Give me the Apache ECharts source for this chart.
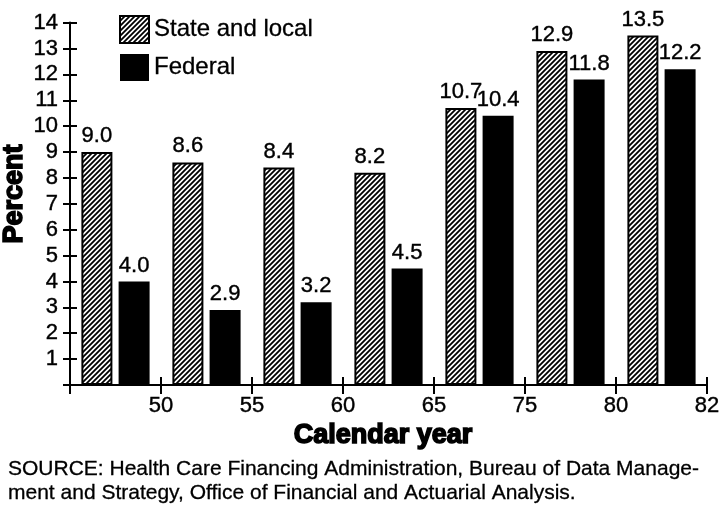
<!DOCTYPE html>
<html><head><meta charset="utf-8">
<script src="https://cdn.jsdelivr.net/npm/echarts@6/dist/echarts.min.js"></script>
<style>html,body{margin:0;padding:0;background:#fff}#c{width:721px;height:513px}</style>
</head><body><div id="c"></div>
<script>
const categories = ['1950', '1955', '1960', '1965', '1975', '1980', '1982'];
const stateLocal = [9.0, 8.6, 8.4, 8.2, 10.7, 12.9, 13.5];
const federal = [4.0, 2.9, 3.2, 4.5, 10.4, 11.8, 12.2];
const xTickLabels = ['', '50', '55', '60', '65', '75', '80', '82'];
const sourceLines = [
  'SOURCE: Health Care Financing Administration, Bureau of Data Manage-',
  'ment and Strategy, Office of Financial and Actuarial Analysis.'
];

const FONT = "'Liberation Sans', Arial, Helvetica, sans-serif";

// hatch pattern
const pc = document.createElement('canvas');
pc.width = 5; pc.height = 5;
const g = pc.getContext('2d');
g.fillStyle = '#fff'; g.fillRect(0, 0, 5, 5);
g.strokeStyle = '#000'; g.lineWidth = 1.8;
g.beginPath();
g.moveTo(-1, 6); g.lineTo(6, -1);
g.moveTo(-1, 1); g.lineTo(1, -1);
g.moveTo(4, 6); g.lineTo(6, 4);
g.stroke();

const chart = echarts.init(document.getElementById('c'), null, {renderer: 'canvas'});
const n = categories.length;
const lbl = {show: true, position: 'top', distance: 5, color: '#000', fontSize: 22, fontFamily: FONT,
  textBorderColor: '#000', textBorderWidth: 0.4,
  formatter: p => p.value.toFixed(1)};
const tickFont = {fontSize: 22, fontFamily: FONT, color: '#000', textBorderColor: '#000', textBorderWidth: 0.4};

chart.setOption({
  animation: false,
  backgroundColor: '#fff',
  grid: {left: 70, right: 14, top: 22.6, bottom: 128, containLabel: false, outerBoundsMode: 'none'},
  legend: {
    orient: 'vertical', left: 119, top: 15, padding: 0, itemWidth: 29, itemHeight: 27, itemGap: 10,
    icon: 'rect',
    textStyle: {fontSize: 24, fontFamily: FONT, color: '#000', textBorderColor: '#000', textBorderWidth: 0.3},
    data: ['State and local', 'Federal']
  },
  xAxis: [
    {type: 'category', data: categories,
      axisLine: {show: true, lineStyle: {color: '#000', width: 2}},
      axisTick: {show: false}, axisLabel: {show: false}},
    {type: 'value', min: 0, max: n, interval: 1, position: 'bottom',
      axisLine: {show: false}, splitLine: {show: false},
      axisTick: {show: true, length: 9, lineStyle: {color: '#000', width: 2}},
      axisLabel: Object.assign({show: true, margin: 10, formatter: v => xTickLabels[v] || ''}, tickFont)},
    {type: 'value', min: 0, max: n, interval: 1, position: 'bottom',
      axisLine: {show: false}, splitLine: {show: false},
      axisTick: {show: true, inside: true, length: 8, lineStyle: {color: '#000', width: 2}},
      axisLabel: {show: false}}
  ],
  yAxis: [
    {type: 'value', min: 0, max: 14, interval: 1,
      axisLine: {show: true, lineStyle: {color: '#000', width: 2}},
      axisTick: {show: true, length: 7, lineStyle: {color: '#000', width: 2}},
      splitLine: {show: false},
      axisLabel: Object.assign({margin: 12, formatter: v => v === 0 ? '' : String(v)}, tickFont)},
    {type: 'value', min: 0, max: 14, interval: 1, position: 'left',
      axisLine: {show: false}, splitLine: {show: false},
      axisTick: {show: true, inside: true, length: 7, lineStyle: {color: '#000', width: 2}},
      axisLabel: {show: false}}
  ],
  series: [
    {name: 'State and local', type: 'bar', xAxisIndex: 0, yAxisIndex: 0, data: stateLocal,
      barWidth: 31, barGap: '20%',
      itemStyle: {color: {image: pc, repeat: 'repeat'}, borderColor: '#000', borderWidth: 2},
      label: lbl},
    {name: 'Federal', type: 'bar', xAxisIndex: 0, yAxisIndex: 0, data: federal,
      barWidth: 31, barGap: '20%',
      itemStyle: {color: '#000', borderColor: '#000', borderWidth: 0},
      label: lbl}
  ],
  graphic: [
    {type: 'text', x: 383, y: 436,
      style: {text: 'Calendar year', fontSize: 27, fontWeight: 'bold', fontFamily: FONT, fill: '#000',
        stroke: '#000', lineWidth: 1.6, align: 'center', verticalAlign: 'middle'}},
    {type: 'text', rotation: Math.PI / 2, x: 15, y: 194,
      style: {text: 'Percent', fontSize: 27, fontWeight: 'bold', fontFamily: FONT, fill: '#000',
        stroke: '#000', lineWidth: 1.6, align: 'center', verticalAlign: 'middle'}}
  ].concat(sourceLines.map((t, i) => ({
    type: 'text', x: 8, y: 459 + i * 24,
    style: {text: t, fontSize: 21, fontFamily: FONT, fill: '#000', stroke: '#000', lineWidth: 0.3}
  })))
});
</script></body></html>
